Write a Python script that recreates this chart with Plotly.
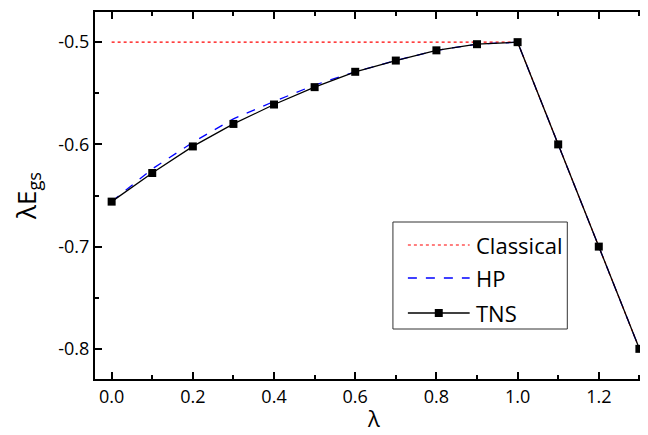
import plotly.graph_objects as go

lam = [0.0, 0.1, 0.2, 0.3, 0.4, 0.5, 0.6, 0.7, 0.8, 0.9, 1.0, 1.1, 1.2, 1.3]
tns = [-0.656, -0.628, -0.602, -0.580, -0.561, -0.544, -0.529, -0.518, -0.508, -0.502, -0.500, -0.600, -0.700, -0.800]
hp = [-0.656, -0.624, -0.598, -0.575, -0.558, -0.542, -0.529, -0.518, -0.508, -0.502, -0.500, -0.600, -0.700, -0.800]
classical = [-0.5, -0.5, -0.5, -0.5, -0.5, -0.5, -0.5, -0.5, -0.5, -0.5, -0.5, -0.6, -0.7, -0.8]

series_names = ["Classical", "HP", "TNS"]
x_title = "λ"
y_title = "λE<sub>gs</sub>"
xtick_vals = [0.0, 0.2, 0.4, 0.6, 0.8, 1.0, 1.2]
xtick_text = ["0.0", "0.2", "0.4", "0.6", "0.8", "1.0", "1.2"]
ytick_vals = [-0.8, -0.7, -0.6, -0.5]
ytick_text = ["-0.8", "-0.7", "-0.6", "-0.5"]

FONT = "Open Sans"
W, H = 648, 435
ML, MR, MT, MB = 87, 0, 4, 64
PW, PH = W - ML - MR, H - MT - MB


def fx(px):
    return (px - ML) / PW


def fy(py):
    return 1 - (py - MT) / PH


fig = go.Figure()
fig.add_trace(go.Scatter(x=lam, y=classical, mode="lines", name=series_names[0],
                         line=dict(color="#ff0000", width=1.2, dash="dot")))
fig.add_trace(go.Scatter(x=lam, y=hp, mode="lines", name=series_names[1],
                         line=dict(color="#0000ff", width=1.3, dash="dash")))
fig.add_trace(go.Scatter(x=lam, y=tns, mode="lines+markers", name=series_names[2],
                         line=dict(color="#000000", width=1.3),
                         marker=dict(symbol="square", size=8, color="#000000")))

axis_common = dict(
    showline=True, linecolor="black", linewidth=2, mirror="ticks",
    ticks="inside", ticklen=7, tickwidth=1.5, tickcolor="black",
    showgrid=False, zeroline=False,
    tickfont=dict(family=FONT, size=18, color="black"),
)

fig.update_xaxes(
    range=[-0.041, 1.336], tickmode="array", tickvals=xtick_vals, ticktext=xtick_text,
    minor=dict(tickmode="linear", tick0=0, dtick=0.1, ticks="inside", ticklen=4, tickwidth=1.5, tickcolor="black"),
    **axis_common,
)
fig.update_yaxes(
    range=[-0.8295, -0.4705], tickmode="array", tickvals=ytick_vals, ticktext=ytick_text,
    minor=dict(tickmode="linear", tick0=0, dtick=0.05, ticks="inside", ticklen=4, tickwidth=1.5, tickcolor="black"),
    title=dict(text=y_title, font=dict(family=FONT, size=26, color="black"), standoff=28),
    **axis_common,
)

annotations = [dict(xref="paper", yref="paper", x=fx(366), y=fy(410), text=x_title,
                    showarrow=False, xanchor="center", yanchor="middle",
                    font=dict(family=FONT, size=22, color="black"))]

# Legend drawn as a boxed key (long line samples as in the reference)
shapes = [dict(type="rect", xref="paper", yref="paper",
               x0=fx(386), x1=fx(561), y0=fy(321), y1=fy(214),
               line=dict(color="#333333", width=1), fillcolor="white", layer="above")]
row_y = [237, 270, 305]
styles = [dict(color="#ff0000", width=1.2, dash="dot"),
          dict(color="#0000ff", width=1.3, dash="dash"),
          dict(color="#000000", width=1.3)]
for name, ry, st in zip(series_names, row_y, styles):
    shapes.append(dict(type="line", xref="paper", yref="paper",
                       x0=fx(401), x1=fx(463), y0=fy(ry), y1=fy(ry),
                       line=st, layer="above"))
    annotations.append(dict(xref="paper", yref="paper", x=fx(467), y=fy(ry),
                            text=name, showarrow=False, xanchor="left", yanchor="middle",
                            font=dict(family=FONT, size=22, color="black")))
shapes.append(dict(type="rect", xref="paper", yref="paper",
                   x0=fx(428), x1=fx(436), y0=fy(309), y1=fy(301),
                   line=dict(color="black", width=0), fillcolor="black", layer="above"))

fig.update_layout(
    width=W, height=H,
    margin=dict(l=ML, r=MR, t=MT, b=MB),
    paper_bgcolor="white", plot_bgcolor="white",
    showlegend=False,
    shapes=shapes,
    annotations=annotations,
)

fig.write_html("out.html")
